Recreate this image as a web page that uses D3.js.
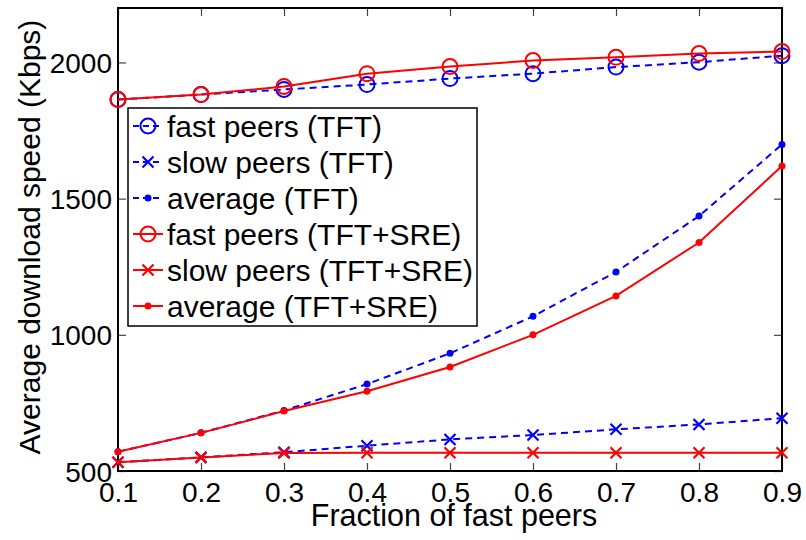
<!DOCTYPE html>
<html><head><meta charset="utf-8">
<script src="https://cdn.jsdelivr.net/npm/d3@7"></script>
<style>body{margin:0;background:#fff}svg{display:block}text{font-family:"Liberation Sans",Arial,Helvetica,sans-serif}</style>
</head><body><svg id="c" width="806" height="540"></svg>
<script>
const fractions = [0.1,0.2,0.3,0.4,0.5,0.6,0.7,0.8,0.9];
const fastTFT    = [1864,1882,1901,1919,1941,1959,1983,2001,2025];
const slowTFT    = [532,550,569,593,616,632,653,671,694];
const avgTFT     = [571,640,722,819,932,1068,1231,1436,1699];
const fastSRE    = [1864,1882,1912,1959,1985,2007,2019,2033,2040];
const slowSRE    = [532,550,566,567,567,567,567,567,567];
const avgSRE     = [571,640,720,793,882,1000,1143,1339,1620];
const xTicks = [0.1,0.2,0.3,0.4,0.5,0.6,0.7,0.8,0.9];
const yTicks = [500,1000,1500,2000];
const seriesNames = ["fast peers (TFT)","slow peers (TFT)","average (TFT)","fast peers (TFT+SRE)","slow peers (TFT+SRE)","average (TFT+SRE)"];

const series = [
  {name:seriesNames[0], v:fastTFT, color:"#0000ff", dash:"7,5", marker:"circle"},
  {name:seriesNames[1], v:slowTFT, color:"#0000ff", dash:"7,5", marker:"x"},
  {name:seriesNames[2], v:avgTFT,  color:"#0000ff", dash:"7,5", marker:"dot"},
  {name:seriesNames[3], v:fastSRE, color:"#ff0000", dash:null, marker:"circle"},
  {name:seriesNames[4], v:slowSRE, color:"#ff0000", dash:null, marker:"x"},
  {name:seriesNames[5], v:avgSRE,  color:"#ff0000", dash:null, marker:"dot"}
];

const L=118,R=782,T=8,B=471;
const svg=d3.select("#c");
const x=d3.scaleLinear().domain([0.1,0.9]).range([L,R]);
const y=d3.scaleLinear().domain([500,2200]).range([B,T]);

const tl=8;
const g=svg.append("g");
const fmtX=d3.format(".1f");
g.append("g").attr("transform",`translate(0,${B})`)
  .call(d3.axisBottom(x).tickValues(xTicks).tickSizeInner(-tl).tickSizeOuter(0).tickFormat(fmtX))
  .call(a=>{a.select(".domain").remove();a.selectAll("line").attr("stroke","#444").attr("stroke-width",1.2);
    a.selectAll("text").attr("font-size",28).attr("fill","#000").attr("dy",null).attr("y",31);});
g.append("g").attr("transform",`translate(0,${T})`)
  .call(d3.axisTop(x).tickValues(xTicks).tickSizeInner(-tl).tickSizeOuter(0).tickFormat(""))
  .call(a=>{a.select(".domain").remove();a.selectAll("line").attr("stroke","#444").attr("stroke-width",1.2);});
g.append("g").attr("transform",`translate(${L},0)`)
  .call(d3.axisLeft(y).tickValues(yTicks).tickSizeInner(-tl).tickSizeOuter(0).tickPadding(6).tickFormat(d3.format("d")))
  .call(a=>{a.select(".domain").remove();a.selectAll("line").attr("stroke","#444").attr("stroke-width",1.2);
    a.selectAll("text").attr("font-size",28).attr("fill","#000").attr("dy","0.36em");});
g.append("g").attr("transform",`translate(${R},0)`)
  .call(d3.axisRight(y).tickValues(yTicks).tickSizeInner(-tl).tickSizeOuter(0).tickFormat(""))
  .call(a=>{a.select(".domain").remove();a.selectAll("line").attr("stroke","#444").attr("stroke-width",1.2);});

svg.append("rect").attr("x",L).attr("y",T).attr("width",R-L).attr("height",B-T)
  .attr("fill","none").attr("stroke","#000").attr("stroke-width",2);

function drawMarker(sel,type,color,cx,cy){
  if(type==="circle"){
    sel.append("circle").attr("cx",cx).attr("cy",cy).attr("r",7.5).attr("fill","none").attr("stroke",color).attr("stroke-width",2);
  } else if(type==="x"){
    const s=5.5;
    sel.append("path").attr("d",`M${cx-s},${cy-s}L${cx+s},${cy+s}M${cx-s},${cy+s}L${cx+s},${cy-s}`)
      .attr("stroke",color).attr("stroke-width",2.2).attr("fill","none");
  } else {
    sel.append("circle").attr("cx",cx).attr("cy",cy).attr("r",3.5).attr("fill",color);
  }
}

const line=d3.line().x((d,i)=>x(fractions[i])).y(d=>y(d));
const plot=svg.append("g");
series.forEach(s=>{
  const gs=plot.append("g");
  gs.append("path").attr("d",line(s.v)).attr("fill","none").attr("stroke",s.color)
    .attr("stroke-width",2).attr("stroke-dasharray",s.dash);
  s.v.forEach((v,i)=>drawMarker(gs,s.marker,s.color,x(fractions[i]),y(v)));
});

const lg=svg.append("g");
lg.append("rect").attr("x",128).attr("y",108).attr("width",349).attr("height",218)
  .attr("fill","#fff").attr("stroke","#000").attr("stroke-width",1.5);
series.forEach((s,i)=>{
  const cy=126+i*36;
  lg.append("line").attr("x1",133).attr("x2",163).attr("y1",cy).attr("y2",cy)
    .attr("stroke",s.color).attr("stroke-width",2).attr("stroke-dasharray",s.dash?"6,4":null);
  drawMarker(lg,s.marker,s.color,148,cy);
  lg.append("text").attr("x",167).attr("y",cy+10.5).attr("font-size",30).attr("fill","#000").text(s.name);
});

svg.append("text").attr("x",454).attr("y",526).attr("text-anchor","middle").attr("font-size",30.5).text("Fraction of fast peers");
svg.append("text").attr("transform","translate(40,237) rotate(-90)").attr("text-anchor","middle").attr("font-size",30).text("Average download speed (Kbps)");
</script></body></html>
